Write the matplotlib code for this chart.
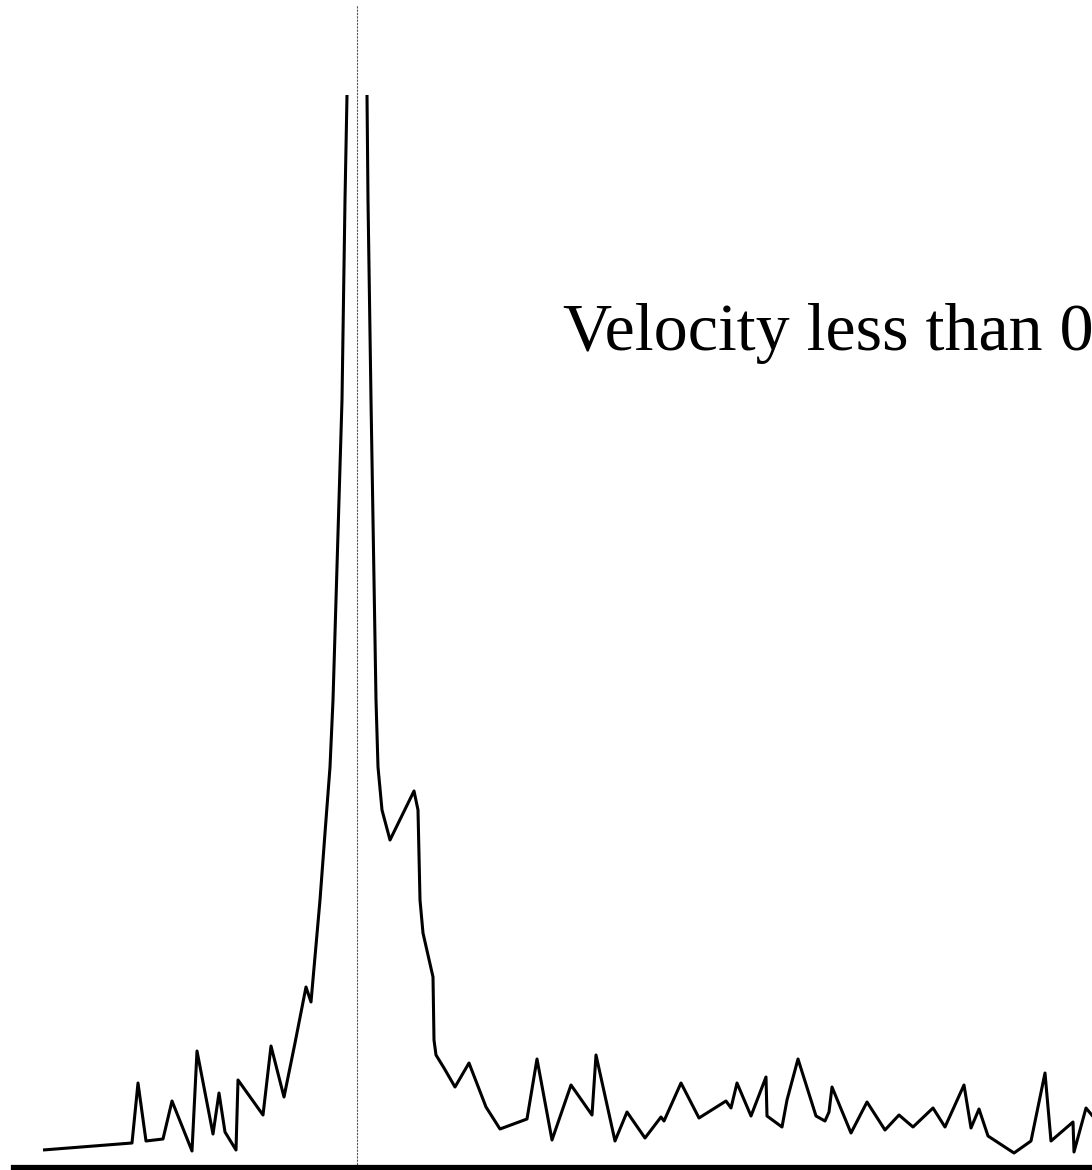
import matplotlib
matplotlib.use("Agg")
import matplotlib.pyplot as plt

# velocity (x) and density (y)
velocity = [-3.14, -2.25, -2.19, -2.11, -1.94, -1.85, -1.65, -1.60, -1.44, -1.38,
            -1.32, -1.21, -1.19, -0.94, -0.86, -0.73, -0.62, -0.51, -0.46, -0.37,
            -0.32, -0.27, -0.24, -0.15, -0.12, -0.10, 0.00, 0.10, 0.11, 0.14,
            0.19, 0.21, 0.25, 0.33, 0.57, 0.61, 0.63, 0.66, 0.76, 0.77,
            0.79, 0.87, 0.98, 1.12, 1.29, 1.43, 1.70, 1.80, 1.95, 2.14,
            2.35, 2.39, 2.58, 2.70, 2.88, 3.04, 3.07, 3.24, 3.42, 3.69,
            3.74, 3.80, 3.94, 4.09, 4.10, 4.25, 4.30, 4.41, 4.59, 4.68,
            4.72, 4.75, 4.94, 5.10, 5.28, 5.42, 5.56, 5.76, 5.88, 6.07,
            6.14, 6.22, 6.31, 6.57, 6.74, 6.88, 6.94, 7.16, 7.17, 7.29,
            7.43]
density = [0.018, 0.025, 0.085, 0.027, 0.029, 0.067, 0.017, 0.117, 0.034, 0.075,
           0.036, 0.018, 0.088, 0.053, 0.122, 0.071, 0.125, 0.181, 0.166, 0.268,
           0.335, 0.401, 0.468, 0.768, 0.968, 1.073, 1.568, 1.073, 0.968, 0.768,
           0.468, 0.401, 0.358, 0.328, 0.377, 0.358, 0.268, 0.235, 0.191, 0.128,
           0.113, 0.100, 0.081, 0.105, 0.061, 0.039, 0.049, 0.109, 0.028, 0.083,
           0.053, 0.113, 0.027, 0.056, 0.030, 0.051, 0.047, 0.085, 0.050, 0.067,
           0.060, 0.085, 0.052, 0.091, 0.052, 0.041, 0.068, 0.109, 0.052, 0.047,
           0.056, 0.081, 0.035, 0.066, 0.038, 0.053, 0.041, 0.060, 0.041, 0.083,
           0.040, 0.059, 0.032, 0.015, 0.027, 0.095, 0.027, 0.046, 0.016, 0.060,
           0.043]

zero_velocity = 0.0
label = "Velocity less than 0"

fig = plt.figure(figsize=(10.92, 11.70), dpi=100)
ax = fig.add_axes([14 / 1092, 2 / 1170, 1386 / 1092, 1073 / 1170])

ax.plot(velocity, density, color="black", linewidth=2.2,
        solid_joinstyle="round", solid_capstyle="butt")
ax.axvline(zero_velocity, ymin=0, ymax=1.084, clip_on=False,
           color="#555555", linewidth=0.8, linestyle=(0, (2, 1)))
ax.text(2.06, 0.818, label, fontsize=49, family="Liberation Serif",
        va="baseline", ha="left", color="black")

ax.set_xlim(-3.43, 10.43)
ax.set_ylim(0, 1.073)
for side in ["left", "top", "right"]:
    ax.spines[side].set_visible(False)
ax.spines["bottom"].set_linewidth(4.5)
ax.set_xticks([])
ax.set_yticks([])
ax.patch.set_visible(False)

fig.savefig("out.png", dpi=100)
